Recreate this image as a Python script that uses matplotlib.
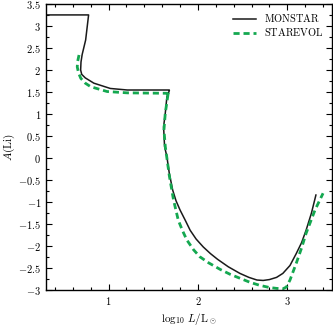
import matplotlib
matplotlib.use('Agg')
import matplotlib.pyplot as plt
from matplotlib.ticker import MultipleLocator, FuncFormatter

plt.rcParams['mathtext.fontset'] = 'cm'
plt.rcParams['font.family'] = 'serif'
plt.rcParams['font.serif'] = ['cmr10', 'DejaVu Serif']

# MONSTAR track (black, solid)
monstar_logl = [0.30, 0.777, 0.744, 0.705, 0.692, 0.688, 0.70, 0.74, 0.836, 1.02, 1.21, 1.68, 1.68,
                1.653, 1.635, 1.616, 1.627, 1.653, 1.68, 1.718, 1.755, 1.80, 1.86, 1.913,
                1.98, 2.06, 2.14, 2.22, 2.34, 2.47, 2.57, 2.66, 2.73, 2.80, 2.88, 2.95,
                3.03, 3.10, 3.16, 3.21, 3.27, 3.32]
monstar_ali = [3.25, 3.25, 2.68, 2.35, 2.18, 2.0, 1.90, 1.82, 1.70, 1.58, 1.545, 1.545, 1.53,
               1.39, 1.02, 0.71, 0.26, 0.03, -0.35, -0.73, -0.97, -1.18, -1.42, -1.64,
               -1.84, -2.02, -2.17, -2.30, -2.47, -2.62, -2.71, -2.77, -2.78, -2.76, -2.71, -2.62,
               -2.44, -2.17, -1.92, -1.64, -1.25, -0.84]

# STAREVOL track (green, dashed)
starevol_logl = [0.67, 0.655, 0.65, 0.665, 0.69, 0.74, 0.80, 0.985, 1.21, 1.67, 1.67,
                 1.635, 1.62, 1.635, 1.653, 1.68, 1.727, 1.78, 1.83, 1.876, 1.95,
                 2.02, 2.12, 2.25, 2.36, 2.47, 2.58, 2.69, 2.80, 2.88, 2.95, 2.99,
                 3.03, 3.10, 3.16, 3.21, 3.31, 3.40]
starevol_ali = [2.34, 2.20, 2.07, 1.93, 1.81, 1.70, 1.62, 1.51, 1.48, 1.47, 1.51,
                1.02, 0.64, 0.26, 0.0, -0.40, -0.95, -1.41, -1.66, -1.86, -2.08,
                -2.24, -2.38, -2.53, -2.64, -2.73, -2.82, -2.89, -2.94, -2.96, -2.97, -2.93,
                -2.77, -2.39, -2.04, -1.71, -1.18, -0.80]

fig = plt.figure(figsize=(3.33, 3.26), dpi=100)
ax = fig.add_axes([0.138, 0.110, 0.859, 0.878])

ax.plot(monstar_logl, monstar_ali, color='#1a1a1a', lw=1.1, label=r'$\mathrm{MONSTAR}$')
ax.plot(starevol_logl, starevol_ali, color='#14a850', lw=2.0, ls=(0, (2.2, 1.4)),
        label=r'$\mathrm{STAREVOL}$')

ax.set_xlim(0.3, 3.5)
ax.set_ylim(-3, 3.5)
ax.xaxis.set_major_locator(MultipleLocator(1))
ax.xaxis.set_minor_locator(MultipleLocator(0.2))
ax.yaxis.set_major_locator(MultipleLocator(0.5))
ax.yaxis.set_minor_locator(MultipleLocator(0.25))
fmt = FuncFormatter(lambda v, p: '$%g$' % v)
ax.xaxis.set_major_formatter(fmt)
ax.yaxis.set_major_formatter(fmt)
ax.tick_params(which='both', direction='in', top=True, right=True, labelsize=7.5, width=0.8)
ax.tick_params(which='major', length=4)
ax.tick_params(which='minor', length=2)
for s in ax.spines.values():
    s.set_linewidth(1.0)

ax.set_xlabel(r'$\log_{10}\,L/\mathrm{L}_\odot$', fontsize=8)
ax.set_ylabel(r'$A(\mathrm{Li})$', fontsize=8)
ax.xaxis.set_label_coords(0.5, -0.072)
ax.yaxis.set_label_coords(-0.10, 0.5)

ax.legend(loc='upper right', frameon=False, fontsize=7.5, handlelength=2.2,
          borderaxespad=0.4, labelspacing=0.2)

fig.savefig('out.png', dpi=100)
